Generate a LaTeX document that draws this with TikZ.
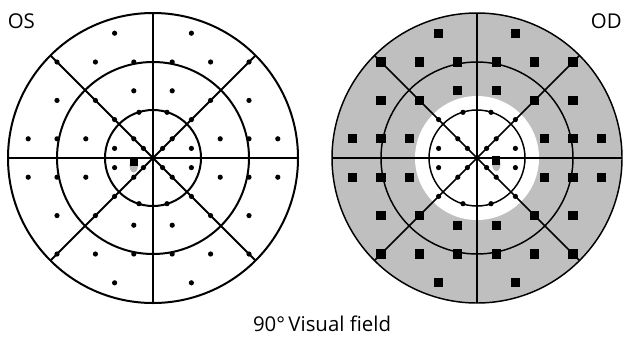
\documentclass[tikz,border=0pt]{standalone}
\usepackage{fontspec}
\setmainfont{Open Sans}
\begin{document}
\begin{tikzpicture}[x=0.75pt,y=-0.75pt,
  lblfont/.style={font=\fontsize{15.3}{18}\selectfont},
  thickL/.style={line width=1.5pt},
  thickR/.style={line width=1.1pt},
  dotmark/.style={fill=black},
  sqmark/.style={fill=black},
  shadow/.style={fill=black!28}]
\useasboundingbox (0,0) rectangle (623,336);
\def\u{9.6}
% ---------------- left field (OS) ----------------
\begin{scope}[shift={(153,158)}]
  \draw[thickL] (0,0) circle[radius=145];
  \draw[thickL] (0,0) circle[radius=96];
  \draw[thickL] (0,0) circle[radius=48];
  \draw[thickL] (-145,0) -- (145,0);
  \draw[thickL] (0,-145) -- (0,145);
  \draw[thickL] (45:145) -- (225:145);
  \draw[thickL] (135:145) -- (315:145);
  \foreach \a/\b in {1/1,2/2,4/4,6/6,10/10,1.46/4.76,4/1,2/7,7/2,2/10,6/10,10/2,10/6,4/13,13/2}
    \foreach \sx in {-1,1}
      \foreach \sy in {-1,1}
        \fill[dotmark] ({\sx*\a*\u},{\sy*\b*\u}) circle[radius=2.6];
  \fill[shadow] (-19.3,7.5) ellipse[x radius=4.2, y radius=7];
  \fill[sqmark] (-23.3,-1) rectangle (-15.3,8);
\end{scope}
% ---------------- right field (OD) ----------------
\begin{scope}[shift={(477,158)}]
  \fill[black!25] (0,0) circle[radius=145];
  \fill[white] (0,0) circle[radius=62];
  \draw[thickR] (0,0) circle[radius=145];
  \draw[thickR] (0,0) circle[radius=96];
  \draw[thickR] (0,0) circle[radius=48];
  \draw[thickR] (-145,0) -- (145,0);
  \draw[thickR] (0,-145) -- (0,145);
  \draw[thickR] (45:145) -- (225:145);
  \draw[thickR] (135:145) -- (315:145);
  \foreach \a/\b in {1/1,2/2,4/4,1.46/4.76,4/1}
    \foreach \sx in {-1,1}
      \foreach \sy in {-1,1}
        \fill[dotmark] ({\sx*\a*\u},{\sy*\b*\u}) circle[radius=2.6];
  \foreach \a/\b in {6/6,10/10,2/7,7/2,2/10,6/10,10/2,10/6,4/13,13/2}
    \foreach \sx in {-1,1}
      \foreach \sy in {-1,1}
        \fill[sqmark] ({\sx*\a*\u-4.6},{\sy*\b*\u-4.6}) rectangle +(9.2,9.2);
  \fill[shadow] (19.3,6) ellipse[x radius=4.2, y radius=7];
  \fill[sqmark] (15.3,-2.5) rectangle (23.3,6.5);
\end{scope}
% ---------------- labels ----------------
\node[lblfont, anchor=base west, inner sep=0pt] (os) at (7.5,28.5) {OS};
\node[lblfont, anchor=base east, inner sep=0pt] (od) at (622,28.5) {OD};
\node[lblfont, anchor=base, inner sep=0pt] (title) at (322,331.5) {90°\,Visual field};
\end{tikzpicture}
\end{document}
